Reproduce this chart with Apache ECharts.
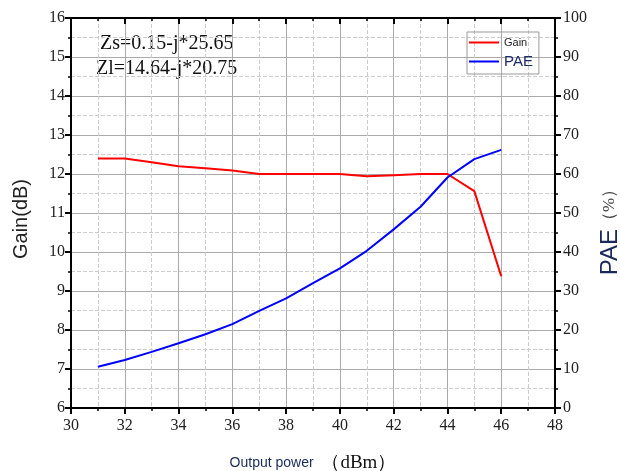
<!DOCTYPE html>
<html>
<head>
<meta charset="utf-8">
<script src="https://cdn.jsdelivr.net/npm/echarts@6/dist/echarts.min.js"></script>
<style>
  html, body { margin: 0; padding: 0; background: #fff; }
  #chart { width: 620px; height: 471px; }
</style>
</head>
<body>
<div id="chart"></div>
<script>
// output power (dBm)
var powerList = [31, 32, 33, 34, 35, 36, 37, 38, 39, 40, 41, 42, 43, 44, 45, 46];
// gain (dB)
var gainList = [12.4, 12.4, 12.3, 12.2, 12.15, 12.09, 12.0, 12.0, 12.0, 12.0, 11.94, 11.97, 12.0, 12.0, 11.56, 9.38];
// PAE (%)
var paeList = [10.6, 12.3, 14.4, 16.6, 18.9, 21.5, 24.9, 28.1, 32.0, 35.8, 40.3, 45.8, 51.6, 59.1, 63.8, 66.2];

var gainData = [];
var paeData = [];
for (var i = 0; i < powerList.length; i++) {
    gainData.push([powerList[i], gainList[i]]);
    paeData.push([powerList[i], paeList[i]]);
}

var chart = echarts.init(document.getElementById('chart'));

var serif = '"Liberation Serif", "Times New Roman", serif';
var sans = '"Liberation Sans", Arial, sans-serif';

var option = {
    backgroundColor: '#fff',
    animation: false,
    grid: { left: 71, right: 65, top: 18, bottom: 63, outerBoundsMode: 'none' },
    legend: {
        orient: 'vertical',
        left: 467,
        top: 32,
        itemGap: 6,
        itemWidth: 30,
        itemHeight: 2,
        icon: 'rect',
        padding: [5, 6, 5, 2],
        borderColor: '#999',
        borderWidth: 1,
        data: ['Gain', 'PAE'],
        formatter: function (name) {
            return name === 'Gain' ? '{a|Gain}' : '{b|PAE}';
        },
        textStyle: {
            rich: {
                a: { fontFamily: sans, fontSize: 11, color: '#222' },
                b: { fontFamily: sans, fontSize: 15, color: '#1a2a6a' }
            }
        }
    },
    graphic: [
        {
            type: 'text', left: 100, top: 34,
            style: { text: 'Zs=0.15-j*25.65', font: '20px ' + serif, fill: '#111' }
        },
        {
            type: 'text', left: 96, top: 59,
            style: { text: 'Zl=14.64-j*20.75', font: '20px ' + serif, fill: '#111' }
        }
    ],
    xAxis: [
        {
            type: 'value',
            min: 30, max: 48, interval: 2,
            name: '{a|Output power  }{b|（dBm）}',
            nameLocation: 'middle',
            nameGap: 46,
            nameTextStyle: {
                rich: {
                    a: { fontFamily: sans, fontSize: 14, color: '#1a2a5a' },
                    b: { fontFamily: serif, fontSize: 19, color: '#111' }
                }
            },
            axisLine: { show: true, onZero: false, lineStyle: { color: '#000', width: 2 } },
            axisTick: { show: true, length: 6, lineStyle: { color: '#000', width: 2 } },
            minorTick: { show: true, splitNumber: 2, length: 3, lineStyle: { color: '#000', width: 1.5 } },
            axisLabel: { fontFamily: serif, fontSize: 16, color: '#222', margin: 10 },
            splitLine: { show: true, lineStyle: { color: '#aaa', width: 1 } },
            minorSplitLine: { show: true, lineStyle: { color: '#ccc', type: 'dashed', width: 1 } }
        },
        {
            type: 'value',
            position: 'top',
            min: 30, max: 48, interval: 2,
            axisLine: { show: true, onZero: false, lineStyle: { color: '#000', width: 2 } },
            axisTick: { show: true, inside: true, length: 6, lineStyle: { color: '#000', width: 2 } },
            minorTick: { show: true, splitNumber: 2, length: 3, lineStyle: { color: '#000', width: 1.5 } },
            axisLabel: { show: false },
            splitLine: { show: false }
        }
    ],
    yAxis: [
        {
            type: 'value',
            min: 6, max: 16, interval: 1,
            name: 'Gain(dB)',
            nameLocation: 'middle',
            nameGap: 40,
            nameTextStyle: { fontFamily: sans, fontSize: 20, color: '#222', padding: [0, 12, 0, 0] },
            axisLine: { show: true, onZero: false, lineStyle: { color: '#000', width: 2 } },
            axisTick: { show: true, length: 6, lineStyle: { color: '#000', width: 2 } },
            minorTick: { show: true, splitNumber: 2, length: 3, lineStyle: { color: '#000', width: 1.5 } },
            axisLabel: { fontFamily: serif, fontSize: 16, color: '#222', margin: 6 },
            splitLine: { show: true, lineStyle: { color: '#aaa', width: 1 } },
            minorSplitLine: { show: true, lineStyle: { color: '#ccc', type: 'dashed', width: 1 } }
        },
        {
            type: 'value',
            position: 'right',
            min: 0, max: 100, interval: 10,
            name: '{a|PAE}{b|（%）}',
            nameLocation: 'middle',
            nameGap: 42,
            nameRotate: 90,
            nameTextStyle: {
                padding: [0, 30, 0, 0],
                rich: {
                    a: { fontFamily: sans, fontSize: 24, color: '#1a2a5a' },
                    b: { fontFamily: serif, fontSize: 17, color: '#444' }
                }
            },
            axisLine: { show: true, onZero: false, lineStyle: { color: '#000', width: 2 } },
            axisTick: { show: true, length: 6, lineStyle: { color: '#000', width: 2 } },
            minorTick: { show: true, splitNumber: 2, length: 3, lineStyle: { color: '#000', width: 1.5 } },
            axisLabel: { fontFamily: serif, fontSize: 16, color: '#222', margin: 8 },
            splitLine: { show: false }
        }
    ],
    series: [
        {
            name: 'Gain',
            type: 'line',
            xAxisIndex: 0,
            yAxisIndex: 0,
            data: gainData,
            showSymbol: false,
            symbol: 'none',
            itemStyle: { color: '#ff0000' },
            lineStyle: { color: '#ff0000', width: 2 }
        },
        {
            name: 'PAE',
            type: 'line',
            xAxisIndex: 0,
            yAxisIndex: 1,
            data: paeData,
            showSymbol: false,
            symbol: 'none',
            itemStyle: { color: '#0000ff' },
            lineStyle: { color: '#0000ff', width: 2 }
        }
    ]
};

chart.setOption(option);
</script>
</body>
</html>
